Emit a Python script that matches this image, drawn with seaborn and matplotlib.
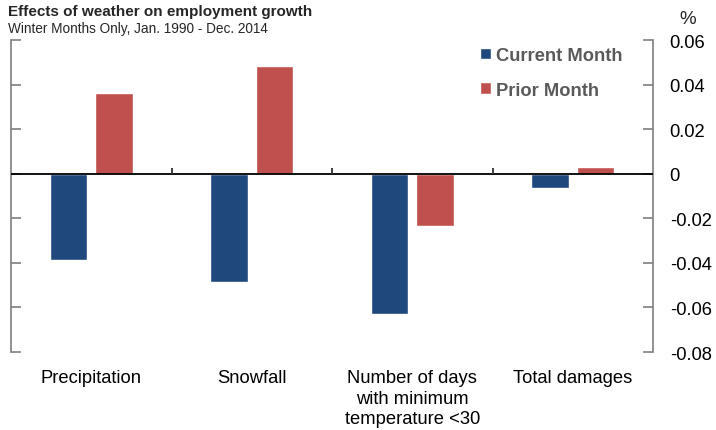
import pandas as pd
import seaborn as sns
import matplotlib.pyplot as plt
from matplotlib import font_manager
from matplotlib.ticker import FuncFormatter

categories = ['Precipitation', 'Snowfall',
              'Number of days\nwith minimum\ntemperature <30', 'Total damages']
current_month = [-0.0387, -0.0488, -0.0629, -0.0064]
prior_month = [0.0363, 0.0485, -0.0236, 0.0030]
series_names = ['Current Month', 'Prior Month']
y_ticks = [0.06, 0.04, 0.02, 0, -0.02, -0.04, -0.06, -0.08]

df = pd.DataFrame({
    'category': categories * 2,
    'series': [series_names[0]] * 4 + [series_names[1]] * 4,
    'value': current_month + prior_month,
})

sns.set_theme(style='white')
plt.rcParams['font.family'] = ['Liberation Sans', 'DejaVu Sans']

# the heading in the original is a bit condensed; use the narrow cut if present
installed = {f.name for f in font_manager.fontManager.ttflist}
if 'Liberation Sans Narrow' in installed:
    head_font, title_size, sub_size = 'Liberation Sans Narrow', 12.5, 11.4
else:
    head_font, title_size, sub_size = 'Liberation Sans', 11, 9.8

fig = plt.figure(figsize=(7.16, 4.31), dpi=100)
ax = fig.add_axes([11 / 716, 78 / 431, 642 / 716, 312 / 431])

palette = {'Current Month': '#1F497D', 'Prior Month': '#C0504D'}
sns.barplot(data=df, x='category', y='value', hue='series', palette=palette,
            width=0.568, gap=0.18, saturation=1, ax=ax, errorbar=None)

ax.set_ylim(-0.08, 0.06)
ax.set_xlim(-0.5, 3.5)
ax.set_xlabel('')
ax.set_ylabel('')

# zero line and category separators
ax.axhline(0, color='black', lw=1.3, zorder=3)
ax.vlines([0.5, 1.5, 2.5], 0, 0.0025, color='#333333', lw=1.3, zorder=3)

for s in ['top', 'bottom']:
    ax.spines[s].set_visible(False)
for s in ['left', 'right']:
    ax.spines[s].set_color('#7f7f7f')
    ax.spines[s].set_linewidth(1.2)

ax.set_yticks(y_ticks)
ax.yaxis.set_major_formatter(FuncFormatter(lambda v, p: '0' if abs(v) < 1e-9 else f'{v:.2f}'))
ax.tick_params(axis='y', which='both', direction='in', length=7, width=1.2,
               color='#7f7f7f', left=True, right=True, labelleft=False,
               labelright=True, labelsize=13.2, pad=12, labelcolor='black')
ax.tick_params(axis='x', length=0, pad=12, labelsize=13.2, labelcolor='black')
for lab in ax.get_xticklabels():
    lab.set_linespacing(1.3)

leg = ax.legend(loc='upper right', bbox_to_anchor=(0.978, 1.03), frameon=False,
                handlelength=0.6, handleheight=0.6, handletextpad=0.25,
                labelspacing=0.95, prop={'weight': 'bold', 'size': 13.2})
for t in leg.get_texts():
    t.set_color('#595959')

fig.text(8 / 716, 1 - 12 / 431, 'Effects of weather on employment growth',
         fontsize=title_size, fontweight='bold', va='center', ha='left',
         family=[head_font, 'DejaVu Sans'])
fig.text(8 / 716, 1 - 29 / 431, 'Winter Months Only, Jan. 1990 - Dec. 2014',
         fontsize=sub_size, va='center', ha='left', family=[head_font, 'DejaVu Sans'])
fig.text(688 / 716, 1 - 19 / 431, '%', fontsize=13.5, va='center', ha='center')

fig.savefig('out.png', dpi=100)
